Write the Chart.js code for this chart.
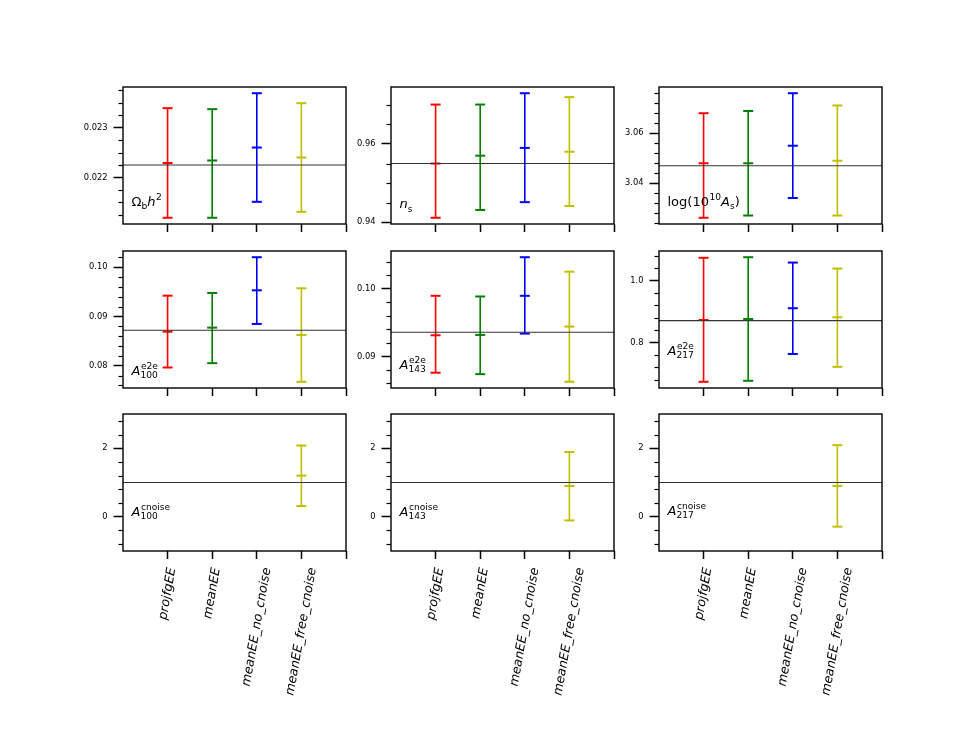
<!DOCTYPE html>
<html>
<head>
<meta charset="utf-8">
<script src="https://cdn.jsdelivr.net/npm/chart.js@4.4.0/dist/chart.umd.min.js"></script>
<style>
  body { margin: 0; background: #fff; }
  #fig { position: relative; width: 980px; height: 735px; overflow: hidden; background: #fff; }
  #fig canvas { position: absolute; }
</style>
</head>
<body>
<div id="fig"></div>
<script>
// categories and colours (matplotlib r, g, b, y)
const methods = ["projfgEE", "meanEE", "meanEE_no_cnoise", "meanEE_free_cnoise"];
const methodColors = ["#ff0000", "#008000", "#0000ff", "#bfbf00"];

// [low, central, high] per method
const ombh2Bars = [[0.02119, 0.02229, 0.02339], [0.02119, 0.02234, 0.02337], [0.02151, 0.02260, 0.02369], [0.02131, 0.02240, 0.02349]];
const nsBars = [[0.9411, 0.9550, 0.9701], [0.9431, 0.9570, 0.9701], [0.9451, 0.9590, 0.9730], [0.9441, 0.9580, 0.9720]];
const logAsBars = [[3.0262, 3.0480, 3.0680], [3.0271, 3.0480, 3.0689], [3.0341, 3.0550, 3.0760], [3.0271, 3.0490, 3.0711]];
const a100e2eBars = [[0.07965, 0.08693, 0.09424], [0.08053, 0.08775, 0.09479], [0.08850, 0.09533, 0.10205], [0.07675, 0.08625, 0.09574]];
const a143e2eBars = [[0.08758, 0.09312, 0.09896], [0.08737, 0.09317, 0.09886], [0.09337, 0.09896, 0.10467], [0.08624, 0.09441, 0.10253]];
const a217e2eBars = [[0.6728, 0.8728, 1.0741], [0.6760, 0.8760, 1.0760], [0.7628, 0.9109, 1.0587], [0.7211, 0.8816, 1.0392]];
const a100cnBars = [null, null, null, [0.312, 1.20, 2.08]];
const a143cnBars = [null, null, null, [-0.107, 0.898, 1.89]];
const a217cnBars = [null, null, null, [-0.29, 0.90, 2.09]];

// fiducial values (horizontal lines)
const fiducials = [0.02225, 0.955, 3.047, 0.08721, 0.09357, 0.8706, 1.0, 1.0, 1.0];

// y tick labels
const ombh2Ticks = ["0.022", "0.023"];
const nsTicks = ["0.94", "0.96"];
const logAsTicks = ["3.04", "3.06"];
const a100e2eTicks = ["0.08", "0.09", "0.10"];
const a143e2eTicks = ["0.09", "0.10"];
const a217e2eTicks = ["0.8", "1.0"];
const cnoiseTicks = ["0", "2"];
const cnoiseRange = [-1, 3];

// parameter labels: [text, kind]
const ombh2Label = [["Ω", "r"], ["b", "sub"], ["h", "i"], ["2", "sup"]];
const nsLabel = [["n", "i"], ["s", "sub"]];
const logAsLabel = [["log(10", "r"], ["10", "sup"], ["A", "i"], ["s", "sub"], [")", "r"]];
const a100e2eLabel = [["A", "i"], ["e2e", "sup"], ["100", "substack"]];
const a143e2eLabel = [["A", "i"], ["e2e", "sup"], ["143", "substack"]];
const a217e2eLabel = [["A", "i"], ["e2e", "sup"], ["217", "substack"]];
const a100cnLabel = [["A", "i"], ["cnoise", "sup"], ["100", "substack"]];
const a143cnLabel = [["A", "i"], ["cnoise", "sup"], ["143", "substack"]];
const a217cnLabel = [["A", "i"], ["cnoise", "sup"], ["217", "substack"]];

const panels = [
  { bars: ombh2Bars, ticks: ombh2Ticks, minor: 0.00025, label: ombh2Label, labelY: 0.131 },
  { bars: nsBars, ticks: nsTicks, minor: 0.005, label: nsLabel, labelY: 0.114 },
  { bars: logAsBars, ticks: logAsTicks, minor: 0.004, label: logAsLabel, labelY: 0.131 },
  { bars: a100e2eBars, ticks: a100e2eTicks, minor: 0.002, label: a100e2eLabel, labelY: 0.098 },
  { bars: a143e2eBars, ticks: a143e2eTicks, minor: 0.002, label: a143e2eLabel, labelY: 0.137 },
  { bars: a217e2eBars, ticks: a217e2eTicks, minor: 0.04, label: a217e2eLabel, labelY: 0.239 },
  { bars: a100cnBars, ticks: cnoiseTicks, minor: 0.4, label: a100cnLabel, labelY: 0.257, range: cnoiseRange },
  { bars: a143cnBars, ticks: cnoiseTicks, minor: 0.4, label: a143cnLabel, labelY: 0.257, range: cnoiseRange },
  { bars: a217cnBars, ticks: cnoiseTicks, minor: 0.4, label: a217cnLabel, labelY: 0.262, range: cnoiseRange },
];

const colLeft = [123, 391, 659];
const rowTop = [87, 251, 414];
const boxW = 223, boxH = 137;
const padL = 60, padT = 8, padR = 8;
const FONT = '"DejaVu Sans", "Liberation Sans", sans-serif';
const xLabelSize = 12.6, xLabelRot = 80 * Math.PI / 180;

function autoRange(bars) {
  let lo = Infinity, hi = -Infinity;
  bars.forEach(b => { if (b) { lo = Math.min(lo, b[0]); hi = Math.max(hi, b[2]); } });
  const m = (hi - lo) * 0.05;
  return [lo - m, hi + m];
}

function drawMath(ctx, segs, x, y, size) {
  let start = x;
  ctx.textBaseline = "alphabetic";
  ctx.textAlign = "left";
  ctx.fillStyle = "#000";
  for (const [text, kind] of segs) {
    const small = kind === "sup" || kind === "sub" || kind === "substack";
    const fs = small ? size * 0.7 : size;
    ctx.font = (kind === "i" ? "italic " : "") + fs + "px " + FONT;
    let dy = 0;
    if (kind === "sup") dy = -size * 0.45;
    if (kind === "sub" || kind === "substack") dy = size * 0.24;
    let px = x;
    if (kind === "substack") px = start;
    else if (kind === "sup") { start = x; px = x + 0.5; }
    else start = x;
    ctx.fillText(text, px, y + dy);
    x = Math.max(x, px + ctx.measureText(text).width);
  }
}

const panelDecor = {
  id: "panelDecor",
  afterDraw(chart, args, opts) {
    const { ctx, chartArea: a } = chart;
    const y = chart.scales.y, xs = chart.scales.x;
    const p = opts.panel;
    ctx.save();
    // minor ticks
    ctx.strokeStyle = "#000";
    ctx.lineWidth = 1.2;
    const majors = p.ticks.map(Number);
    const first = Math.ceil((y.min - 1e-12) / p.minor);
    for (let k = first; k * p.minor <= y.max + 1e-12; k++) {
      const v = k * p.minor;
      if (majors.some(m => Math.abs(m - v) < p.minor * 0.01)) continue;
      const py = Math.round(y.getPixelForValue(v)) + 0.5;
      ctx.beginPath();
      ctx.moveTo(a.left - 4.5, py);
      ctx.lineTo(a.left, py);
      ctx.stroke();
    }
    // frame
    ctx.lineWidth = 1.4;
    ctx.strokeRect(a.left, a.top, a.right - a.left, a.bottom - a.top);
    // parameter label
    drawMath(ctx, p.label, a.left + 8.5, a.bottom - p.labelY * (a.bottom - a.top), 13);
    // category labels (bottom row): rotated 80 deg, box centred on tick, top-aligned
    if (opts.showNames) {
      ctx.font = "italic " + xLabelSize + "px " + FONT;
      ctx.textAlign = "center";
      ctx.textBaseline = "middle";
      const top = a.bottom + 15.5;
      const h = xLabelSize * 1.16;
      methods.forEach((name, i) => {
        const w = ctx.measureText(name).width;
        const boxHgt = w * Math.sin(xLabelRot) + h * Math.cos(xLabelRot);
        const cx = xs.getPixelForValue(i + 1);
        ctx.save();
        ctx.translate(cx, top + boxHgt / 2);
        ctx.rotate(-xLabelRot);
        ctx.fillText(name, 0, 0);
        ctx.restore();
      });
    }
    ctx.restore();
  }
};

const fig = document.getElementById("fig");

panels.forEach((p, idx) => {
  const r = Math.floor(idx / 3), c = idx % 3;
  const padB = r < 2 ? 14 : 175;
  const canvas = document.createElement("canvas");
  const cw = padL + boxW + padR, ch = padT + boxH + padB;
  canvas.width = cw; canvas.height = ch;
  canvas.style.width = cw + "px"; canvas.style.height = ch + "px";
  canvas.style.left = (colLeft[c] - padL) + "px";
  canvas.style.top = (rowTop[r] - padT) + "px";
  fig.appendChild(canvas);

  const range = p.range || autoRange(p.bars);
  const datasets = [{
    data: [{ x: 0, y: fiducials[idx] }, { x: 5, y: fiducials[idx] }],
    showLine: true, borderColor: "#333", borderWidth: 1.1, pointRadius: 0, pointHoverRadius: 0
  }];
  p.bars.forEach((b, i) => {
    datasets.push({
      data: b ? b.map(v => ({ x: i + 1, y: v })) : [],
      showLine: true,
      borderColor: methodColors[i],
      borderWidth: 1.6,
      pointStyle: "line",
      pointRadius: 5,
      pointHoverRadius: 5,
      pointBorderColor: methodColors[i],
      pointBorderWidth: 2
    });
  });

  new Chart(canvas, {
    type: "scatter",
    data: { datasets },
    options: {
      responsive: false,
      animation: false,
      events: [],
      layout: { autoPadding: false, padding: { top: padT, right: padR, left: 0, bottom: 0 } },
      plugins: { legend: { display: false }, tooltip: { enabled: false }, panelDecor: { panel: p, showNames: r === 2 } },
      scales: {
        x: {
          type: "linear", min: 0, max: 5,
          border: { display: false },
          grid: { display: true, drawOnChartArea: false, drawTicks: true, tickLength: 8, tickWidth: 1.5, tickColor: "#000" },
          afterBuildTicks: s => { s.ticks = [1, 2, 3, 4, 5].map(v => ({ value: v })); },
          afterFit: s => { s.height = padB; s.paddingLeft = 0; s.paddingRight = 0; },
          ticks: { autoSkip: false, maxRotation: 0, callback: () => "" }
        },
        y: {
          type: "linear", min: range[0], max: range[1],
          border: { display: false },
          grid: { display: true, drawOnChartArea: false, drawTicks: true, tickLength: 9.5, tickWidth: 1.5, tickColor: "#000" },
          afterBuildTicks: s => { s.ticks = p.ticks.map(t => ({ value: Number(t) })); },
          afterFit: s => { s.width = padL; s.paddingTop = 0; s.paddingBottom = 0; },
          ticks: {
            padding: 6, color: "#000",
            font: { family: FONT, size: 8.3 },
            callback: (v, i) => p.ticks[i]
          }
        }
      }
    },
    plugins: [panelDecor]
  });
});
</script>
</body>
</html>
